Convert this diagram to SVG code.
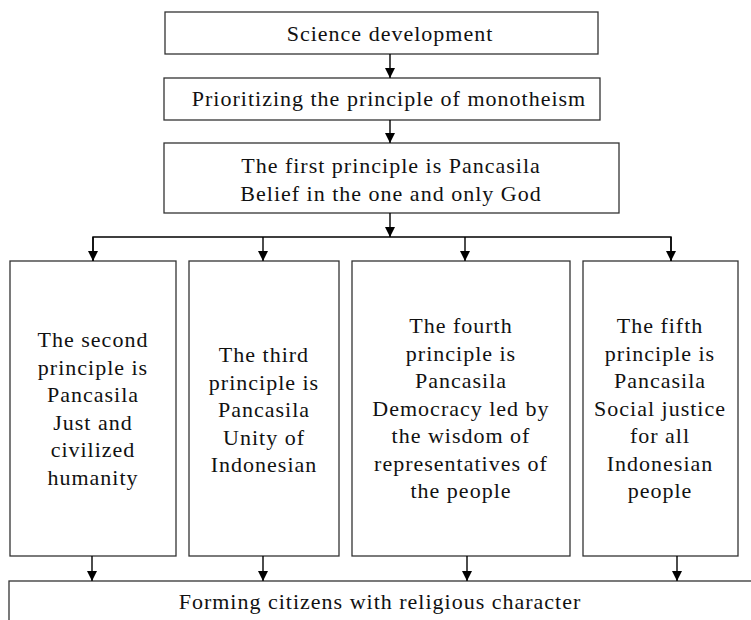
<svg xmlns="http://www.w3.org/2000/svg" width="751" height="620" viewBox="0 0 751 620">
<style>
.box{fill:#fff;stroke:#333;stroke-width:1.3}
.ln{fill:none;stroke:#000;stroke-width:1.4}
text{font-family:"Liberation Serif","Times New Roman",serif;font-size:22px;letter-spacing:1px;fill:#111;text-anchor:middle}
</style>
<defs>
<marker id="ah" markerUnits="userSpaceOnUse" markerWidth="12" markerHeight="12" refX="10" refY="5" orient="auto">
<path d="M0,0 L10,5 L0,10 Z" fill="#000"/>
</marker>
</defs>
<rect width="751" height="620" fill="#fff"/>
<g id="n1"><rect class="box" x="165" y="12" width="433" height="42"/><text x="390" y="41">Science development</text></g>
<g id="n2"><rect class="box" x="164" y="78" width="436" height="42"/><text x="389" y="106">Prioritizing the principle of monotheism</text></g>
<g id="n3"><rect class="box" x="164" y="143" width="455" height="70"/><text x="391" y="173">The first principle is Pancasila</text><text x="391" y="201">Belief in the one and only God</text></g>
<g id="n4"><rect class="box" x="10" y="261" width="166" height="295"/>
<text x="93" y="347">The second</text><text x="93" y="374.5">principle is</text><text x="93" y="402">Pancasila</text><text x="93" y="429.5">Just and</text><text x="93" y="457">civilized</text><text x="93" y="484.5">humanity</text></g>
<g id="n5"><rect class="box" x="189" y="261" width="150" height="295"/>
<text x="264" y="362">The third</text><text x="264" y="389.5">principle is</text><text x="264" y="417">Pancasila</text><text x="264" y="444.5">Unity of</text><text x="264" y="472">Indonesian</text></g>
<g id="n6"><rect class="box" x="352" y="261" width="218" height="295"/>
<text x="461" y="333">The fourth</text><text x="461" y="360.5">principle is</text><text x="461" y="388">Pancasila</text><text x="461" y="415.5">Democracy led by</text><text x="461" y="443">the wisdom of</text><text x="461" y="470.5">representatives of</text><text x="461" y="498">the people</text></g>
<g id="n7"><rect class="box" x="583" y="261" width="155" height="295"/>
<text x="660" y="333">The fifth</text><text x="660" y="360.5">principle is</text><text x="660" y="388">Pancasila</text><text x="660" y="415.5">Social justice</text><text x="660" y="443">for all</text><text x="660" y="470.5">Indonesian</text><text x="660" y="498">people</text></g>
<g id="n8"><rect class="box" x="9" y="581" width="750" height="60"/><text x="380" y="609">Forming citizens with religious character</text></g>
<g id="edges">
<line class="ln" x1="390" y1="54" x2="390" y2="78" marker-end="url(#ah)"/>
<line class="ln" x1="390" y1="120" x2="390" y2="143" marker-end="url(#ah)"/>
<line class="ln" x1="390" y1="213" x2="390" y2="237" marker-end="url(#ah)"/>
<polyline class="ln" points="93,261 93,237 671,237 671,261"/>
<line class="ln" x1="93" y1="237" x2="93" y2="261" marker-end="url(#ah)"/>
<line class="ln" x1="263" y1="237" x2="263" y2="261" marker-end="url(#ah)"/>
<line class="ln" x1="465" y1="237" x2="465" y2="261" marker-end="url(#ah)"/>
<line class="ln" x1="671" y1="237" x2="671" y2="261" marker-end="url(#ah)"/>
<line class="ln" x1="92" y1="556" x2="92" y2="581" marker-end="url(#ah)"/>
<line class="ln" x1="263" y1="556" x2="263" y2="581" marker-end="url(#ah)"/>
<line class="ln" x1="467" y1="556" x2="467" y2="581" marker-end="url(#ah)"/>
<line class="ln" x1="677" y1="556" x2="677" y2="581" marker-end="url(#ah)"/>
</g>
</svg>
